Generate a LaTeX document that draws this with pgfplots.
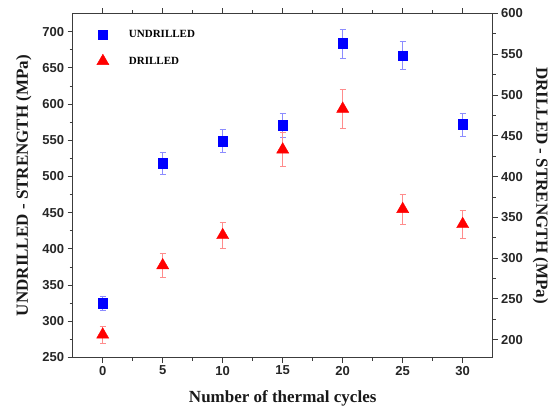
\documentclass[border=0pt]{standalone}
\usepackage{pgfplots}
\pgfplotsset{compat=1.18}
\usepackage{fontspec}
\setmainfont{Liberation Serif}
\setsansfont{Liberation Sans}
\definecolor{axgray}{RGB}{60,60,60}
\begin{document}
\begin{tikzpicture}[x=1pt,y=1pt]
\path[use as bounding box] (-72.7,-52.5) rectangle (481.3,357.5);
\pgfplotsset{common/.style={
  scale only axis, width=420pt, height=344pt, at={(0,0)}, anchor=south west,
  xmin=-2.5, xmax=32.5,
  tick align=outside, major tick length=5pt, minor tick length=3pt,
  axis line style={axgray, line width=0.8pt},
  every tick/.style={axgray, line width=0.8pt},
  ticklabel style={font=\sffamily\bfseries\fontsize{13}{15}\selectfont, color=black!85},
  /pgf/number format/assume math mode=true,
  label style={font=\bfseries\fontsize{17}{20}\selectfont, color=black!90},
}}
\begin{axis}[common,
  ymin=250, ymax=725,
  xtick={0,5,...,30}, minor x tick num=1, xtick pos=both,
  ytick={250,300,...,700}, minor y tick num=1, ytick pos=left,
  xlabel={Number of thermal cycles},
  xlabel shift=8pt,
  ylabel={UNDRILLED - STRENGTH (MPa)},
  ylabel shift=4pt,
  legend style={at={(0.057,0.957)}, anchor=north west, draw=none, fill=none,
    font=\bfseries\fontsize{11}{13}\selectfont, row sep=13pt, column sep=18pt, inner sep=0pt},
  legend cell align=left,
]
\addplot[only marks, mark=square*, mark size=4.75pt, color=blue,
  error bars/.cd, y dir=both, y explicit,
  error bar style={blue!45, line width=0.6pt},
  error mark options={rotate=90, mark size=3pt, blue!45, line width=0.6pt}]
  table[x=x, y=y, y error=e] {
x y e
0 324.8 9.7
5 518 15
10 549 16
15 570.7 17
20 683.8 20
25 667 19.5
30 571.8 16
};
\addlegendentry{UNDRILLED}
\addlegendimage{only marks, mark=triangle*, mark size=7pt, color=red}
\addlegendentry{DRILLED}
\end{axis}
\begin{axis}[common,
  ymin=178, ymax=600,
  axis x line=none, axis y line*=right,
  ytick={200,250,...,600}, minor y tick num=1,
  ylabel={DRILLED - STRENGTH (MPa)},
  ylabel style={rotate=180},
  ylabel shift=3pt,
]
\addplot[only marks, mark=triangle*, mark size=7pt, color=red,
  error bars/.cd, y dir=both, y explicit,
  error bar style={red!45, line width=0.6pt},
  error mark options={rotate=90, mark size=3pt, red!45, line width=0.6pt}]
  table[x=x, y=y, y error=e] {
x y e
0 206 10
5 291 14.5
10 328 16
15 433 21
20 483 24
25 360 18
30 341.5 17
};
\end{axis}
\end{tikzpicture}
\end{document}
